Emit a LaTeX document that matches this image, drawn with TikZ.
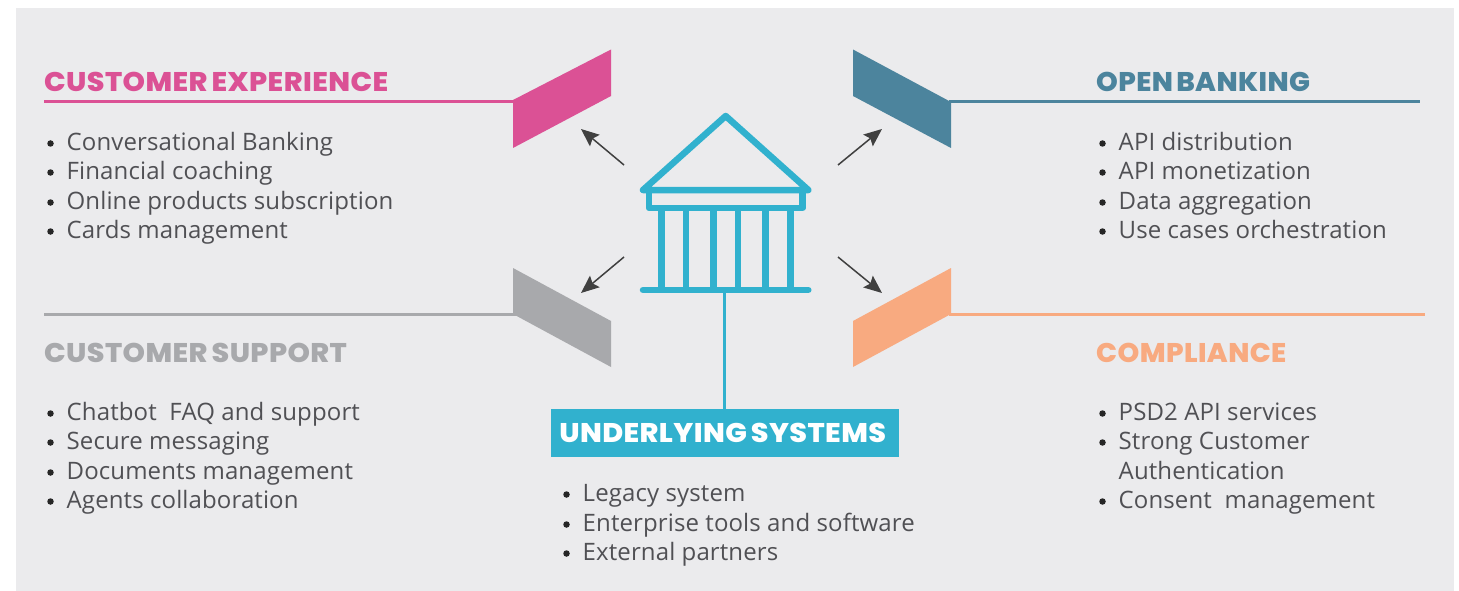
\documentclass[tikz,border=0pt]{standalone}
\usepackage{fontspec}
\setmainfont[LetterSpace=0.5]{Open Sans}
\newfontfamily\headfont[LetterSpace=1.5,WordSpace=0.7,FakeStretch=1.057]{Poppins ExtraBold}
\newfontfamily\headtightfont[LetterSpace=1.5,WordSpace=0.55,FakeStretch=1.025]{Poppins ExtraBold}
\usetikzlibrary{arrows.meta, positioning}
\definecolor{panelgrey}{HTML}{EBEBED}
\definecolor{cepink}{HTML}{DB5195}
\definecolor{obteal}{HTML}{4C849D}
\definecolor{csgrey}{HTML}{A8A9AC}
\definecolor{cporange}{HTML}{F8AA80}
\definecolor{sysblue}{HTML}{31B1CE}
\definecolor{itemgrey}{HTML}{505054}
\tikzset{itemtext/.style={anchor=base west,inner sep=0pt,text=itemgrey,font=\fontsize{24}{29}\selectfont},
         itemdot/.style={circle,fill=black!85,inner sep=0pt,minimum size=6.5pt},
         headtext/.style={anchor=base west,inner sep=0pt,font=\headfont\fontsize{27}{32}\selectfont},
         headtight/.style={anchor=base west,inner sep=0pt,font=\headtightfont\fontsize{27}{32}\selectfont},
         flagline/.style={line width=3pt},
         pointer/.style={-{Stealth[length=18pt,width=15pt,inset=3pt]},line width=1.5pt,draw=black!75,fill=black!75},
         temple/.style={draw=sysblue,line width=6.5pt,line cap=round,line join=round}}

\begin{document}
\begin{tikzpicture}[x=1pt,y=-1pt]
        \useasboundingbox(0,0)rectangle(1459,591);
        \fill[panelgrey](16,8)rectangle(1454,591);

        % flags
        \fill[cepink](513,100)--(611,49.5)--(611,96)--(513,148)--cycle;
        \fill[obteal](853,49.5)--(951,102)--(951,148)--(853,96)--cycle;
        \fill[csgrey](513,268)--(611,321)--(611,367)--(513,314)--cycle;
        \fill[cporange](951,268)--(853,321)--(853,367)--(951,314)--cycle;
        \coordinate(ceflag)at(516,101.5);
        \coordinate(obflag)at(949,101.5);
        \coordinate(csflag)at(516,314);
        \coordinate(cpflag)at(949,314);

        % headings
        \node[headtext, text=cepink](cehead)at(44,92){CUSTOMER EXPERIENCE};
        \node[headtight, text=obteal](obhead)at(1096,92){OPEN BANKING};
        \node[headtext, text=csgrey](cshead)at(44,362){CUSTOMER SUPPORT};
        \node[headtight, text=cporange](cphead)at(1096,362){COMPLIANCE};
        \coordinate(ceend)at(44,101.5);
        \coordinate(obend)at(1420,101.5);
        \coordinate(csend)at(44,314);
        \coordinate(cpend)at(1425,314);
        \draw[flagline, cepink](ceend)--(ceflag);
        \draw[flagline, obteal](obflag)--(obend);
        \draw[flagline, csgrey](csend)--(csflag);
        \draw[flagline, cporange](cpflag)--(cpend);

        % lists
        \foreach \y/\t in {150/Conversational Banking,179/Financial coaching,209/Online products subscription,238/Cards management}{
            \node[itemtext](ce\y)at(66.5,\y){\t};
            \node[itemdot](ced\y)at(50.5,\y-6.5){};
        }
        \foreach \y/\t in {150/API distribution,179/API monetization,209/Data aggregation,238/Use cases orchestration}{
            \node[itemtext](ob\y)at(1118.5,\y){\t};
            \node[itemdot](obd\y)at(1102.5,\y-6.5){};
        }
        \foreach \y/\t in {420/Chatbot\ \ FAQ and support,449/Secure messaging,479/Documents management,508/Agents collaboration}{
            \node[itemtext](cs\y)at(66.5,\y){\t};
            \node[itemdot](csd\y)at(50.5,\y-6.5){};
        }
        \foreach \y/\t in {420/PSD2 API services,449/Strong Customer,508/Consent\ \ management}{
            \node[itemtext](cp\y)at(1118.5,\y){\t};
            \node[itemdot](cpd\y)at(1102.5,\y-6.5){};
        }
        \node[itemtext](cp479)at(1118.5,479){Authentication};
        \foreach \y/\t in {501/Legacy system,531/Enterprise tools and software,560/External partners}{
            \node[itemtext](us\y)at(582.5,\y){\t};
            \node[itemdot](usd\y)at(566.5,\y-6.5){};
        }

        % temple
        \draw[temple](643,190)--(725.7,116)--(808.3,190)--cycle;
        \draw[temple](649,190)--(649,208)--(802.7,208)--(802.7,190);
        \foreach \x in {661.3,686,713.7,738,765.7,790.3}
            \draw[temple, line cap=butt](\x,208)--(\x,290);
        \draw[temple](643,290)--(808.3,290);

        % underlying systems
        \node[fill=sysblue, text=white, inner sep=0pt, minimum width=348pt, minimum height=48pt,
              font=\headfont\fontsize{27}{32}\selectfont](usbox)at(724.7,433){\hspace{-4pt}UNDERLYING SYSTEMS};
        \coordinate(basepoint)at(724.3,290);
        \draw[line width=2.5pt, sysblue](basepoint)--(usbox.north -| basepoint);

        % arrows
        \coordinate(ces)at(624,165);\coordinate(cet)at(581,129);
        \coordinate(obs)at(838,165);\coordinate(obt)at(882,129);
        \coordinate(css)at(624,257);\coordinate(cst)at(581,293);
        \coordinate(cps)at(838,257);\coordinate(cpt)at(882,293);
        \draw[pointer](ces)--(cet);
        \draw[pointer](obs)--(obt);
        \draw[pointer](css)--(cst);
        \draw[pointer](cps)--(cpt);
\end{tikzpicture}
\end{document}
